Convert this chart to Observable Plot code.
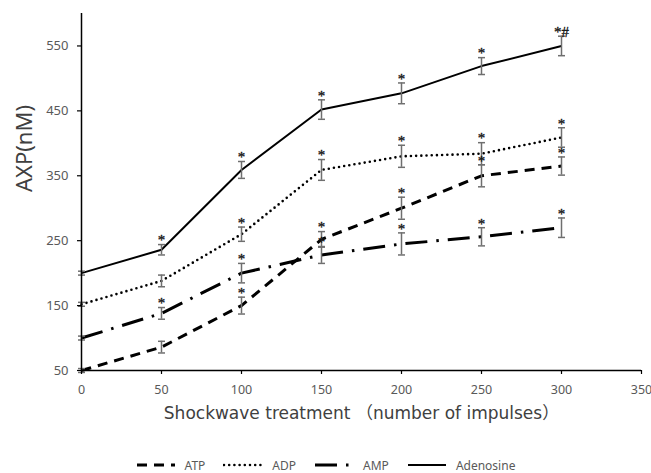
<!DOCTYPE html>
<html>
<head>
<meta charset="utf-8">
<script src="https://cdn.jsdelivr.net/npm/d3@7"></script>
<script src="https://cdn.jsdelivr.net/npm/@observablehq/plot@0.6"></script>
<style>
  html, body { margin: 0; padding: 0; background: #fff; }
  #chart { width: 651px; }
  .legend { display: flex; justify-content: center; align-items: center; margin-top: 12px; height: 16px;
            font-family: "Noto Sans", sans-serif; font-size: 12px; color: #595959; }
  .legend .item { display: flex; align-items: center; margin: 0 9px; }
  .legend svg { margin-right: 9px; }
</style>
</head>
<body>
<div id="chart"></div>
<script>
// ---- data ----
const impulses = [0, 50, 100, 150, 200, 250, 300];
const atp      = [50, 86, 150, 252, 300, 350, 365];
const atpErr   = [3, 9, 13, 12, 17, 17, 14];
const atpSig   = ["", "", "*", "*", "*", "*", "*"];
const adp      = [152, 188, 260, 359, 380, 384, 409];
const adpErr   = [3, 9, 11, 16, 17, 17, 15];
const adpSig   = ["", "", "*", "*", "*", "*", "*"];
const amp      = [100, 138, 200, 228, 245, 256, 270];
const ampErr   = [3, 9, 15, 13, 17, 14, 15];
const ampSig   = ["", "*", "*", "*", "*", "*", "*"];
const ado      = [200, 236, 359, 452, 477, 519, 550];
const adoErr   = [3, 8, 13, 15, 16, 13, 15];
const adoSig   = ["", "*", "*", "*", "*", "*", "*#"];
const seriesNames = ["ATP", "ADP", "AMP", "Adenosine"];
const yTicks = [50, 150, 250, 350, 450, 550];
const xTicks = [0, 50, 100, 150, 200, 250, 300, 350];
const xTitle = "Shockwave treatment （number of impulses）";
const yTitle = "AXP(nM)";

// ---- styles ----
const styles = {
  ATP:       {strokeWidth: 3,   strokeDasharray: "10,7", strokeLinecap: "butt"},
  ADP:       {strokeWidth: 2.6, strokeDasharray: "0,5.2", strokeLinecap: "round"},
  AMP:       {strokeWidth: 3,   strokeDasharray: "22,9,2.5,9", strokeLinecap: "butt"},
  Adenosine: {strokeWidth: 2,   strokeDasharray: null, strokeLinecap: "butt"}
};

const table = [];
[[atp, atpErr, atpSig], [adp, adpErr, adpSig], [amp, ampErr, ampSig], [ado, adoErr, adoSig]].forEach(([v, e, s], k) => {
  impulses.forEach((x, i) => table.push({series: seriesNames[k], x, v: v[i], e: e[i], lo: v[i] - e[i], hi: v[i] + e[i], sig: s[i]}));
});

const capSymbol = {
  draw(context) { context.moveTo(-3.5, 0); context.lineTo(3.5, 0); }
};
const errColor = "#6f6f6f";
const font = "'Noto Sans', sans-serif";
const titleFont = "'DejaVu Sans', 'Noto Sans CJK SC', sans-serif";

const marks = [];
seriesNames.forEach(name => {
  const st = styles[name];
  marks.push(Plot.line(table.filter(d => d.series === name), {
    x: "x", y: "v", stroke: "black", strokeWidth: st.strokeWidth,
    strokeDasharray: st.strokeDasharray, strokeLinecap: st.strokeLinecap, strokeLinejoin: "round"
  }));
});
marks.push(
  Plot.ruleX(table, {x: "x", y1: "lo", y2: "hi", stroke: errColor, strokeWidth: 1.5}),
  Plot.dot(table, {x: "x", y: "lo", symbol: capSymbol, stroke: errColor, strokeWidth: 1.5, fill: "none", r: 3.5}),
  Plot.dot(table, {x: "x", y: "hi", symbol: capSymbol, stroke: errColor, strokeWidth: 1.5, fill: "none", r: 3.5}),
  Plot.text(table.filter(d => d.sig), {x: "x", y: "hi", text: "sig", dy: -4, fontSize: 15,
    fontFamily: "'Liberation Serif', serif", fill: "#111", stroke: "#111", strokeWidth: 0.3}),
  Plot.ruleX([0], {y1: 50, y2: 600, stroke: "black", strokeWidth: 1.5}),
  Plot.ruleY([50], {x1: 0, x2: 350, stroke: "black", strokeWidth: 1.5}),
  Plot.axisY({ticks: yTicks, tickSize: 4, tickPadding: 9, fontSize: 13, fill: "#595959", stroke: "black",
    strokeWidth: 1.2, label: null, fontFamily: font}),
  Plot.axisX({ticks: xTicks, tickSize: 4, tickPadding: 11, fontSize: 12.5, fill: "#595959", stroke: "black",
    strokeWidth: 1.2, label: null, fontFamily: font}),
  Plot.text([xTitle], {frameAnchor: "bottom", dy: 48, fontSize: 17, fill: "#404040",
    fontFamily: titleFont}),
  Plot.text([yTitle], {frameAnchor: "left", rotate: -90, dx: -57, fontSize: 22, fill: "#404040",
    fontFamily: "'Noto Sans', sans-serif"})
);

const chart = Plot.plot({
  width: 651,
  height: 445,
  marginLeft: 81,
  marginRight: 10,
  marginTop: 13,
  marginBottom: 75,
  x: {domain: [0, 350]},
  y: {domain: [50, 600]},
  style: {background: "white", fontFamily: font},
  marks
});
document.getElementById("chart").appendChild(chart);

// legend
const legend = document.createElement("div");
legend.className = "legend";
seriesNames.forEach(name => {
  const st = styles[name];
  const item = document.createElement("div");
  item.className = "item";
  const w = 40;
  item.innerHTML = `<svg width="${w}" height="8"><line x1="1" y1="4" x2="${w - 1}" y2="4" stroke="black"
     stroke-width="${st.strokeWidth}" ${st.strokeDasharray ? `stroke-dasharray="${st.strokeDasharray}"` : ""}
     stroke-linecap="${st.strokeLinecap}"/></svg><span>${name}</span>`;
  legend.appendChild(item);
});
document.body.appendChild(legend);
</script>
</body>
</html>
